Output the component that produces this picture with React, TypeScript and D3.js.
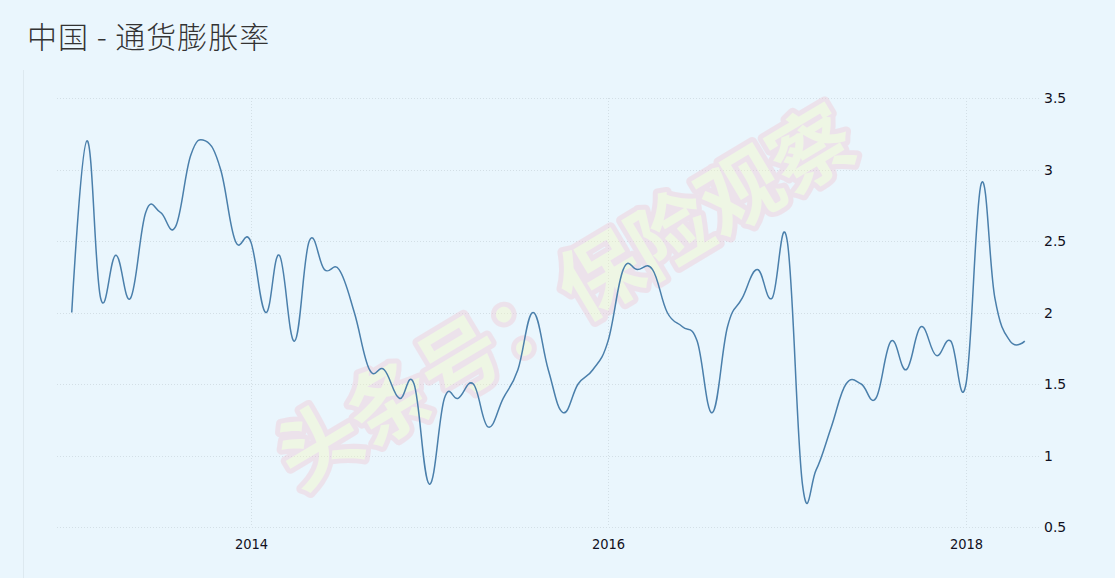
import React from "react";
import * as d3 from "d3";

const W = 1115;
const H = 578;

const title = "中国 - 通货膨胀率";
const watermark = "头条号：保险观察";

const startYear = 2013;
const values: number[] = [
  // 2013
  2.0, 3.2, 2.1, 2.4, 2.1, 2.7, 2.7, 2.6, 3.1, 3.2, 3.0, 2.5,
  // 2014
  2.5, 2.0, 2.4, 1.8, 2.5, 2.3, 2.3, 2.0, 1.6, 1.6, 1.4, 1.5,
  // 2015
  0.8, 1.4, 1.4, 1.5, 1.2, 1.4, 1.6, 2.0, 1.6, 1.3, 1.5, 1.6,
  // 2016
  1.8, 2.3, 2.3, 2.3, 2.0, 1.9, 1.8, 1.3, 1.9, 2.1, 2.3, 2.1,
  // 2017
  2.5, 0.8, 0.9, 1.2, 1.5, 1.5, 1.4, 1.8, 1.6, 1.9, 1.7, 1.8,
  // 2018
  1.5, 2.9, 2.1, 1.8, 1.8,
];

const yTicks = [0.5, 1, 1.5, 2, 2.5, 3, 3.5];
const xTickYears = [2014, 2016, 2018];

const dates = values.map((_, i) => new Date(startYear, i, 1));

export default function App() {
  const x = d3
    .scaleTime()
    .domain([new Date(2014, 0, 1), new Date(2018, 0, 1)])
    .range([250.5, 966]);
  const y = d3.scaleLinear().domain([0.5, 3.5]).range([527, 98]);

  const line = d3
    .line<number>()
    .x((_, i) => x(dates[i]))
    .y((d) => y(d))
    .curve(d3.curveCardinal.tension(-0.2));

  const gridLeft = 57;
  const gridRight = 1040;

  return (
    <div style={{ position: "absolute", left: 0, top: 0, width: W, height: H }}>
      <svg width={W} height={H} style={{ display: "block" }}>
        <rect x={0} y={0} width={W} height={H} fill="#eaf6fd" />
        <line x1={23.5} x2={23.5} y1={70} y2={H} stroke="#dde9f0" strokeWidth={1} />
        <text
          x={27}
          y={48}
          fontFamily="'Noto Sans CJK SC', sans-serif"
          fontWeight={300}
          fontSize={30}
          letterSpacing={1}
          fill="#333"
        >
          {title}
        </text>

        {/* horizontal grid */}
        {yTicks.map((t) => (
          <g key={t}>
            <line
              x1={gridLeft}
              x2={gridRight}
              y1={Math.round(y(t)) + 0.5}
              y2={Math.round(y(t)) + 0.5}
              stroke="#d3dfe6"
              strokeDasharray="1,2"
            />
            <text
              x={1044}
              y={y(t) + 5}
              fontFamily="'DejaVu Sans', sans-serif"
              fontSize={14}
              fill="#111122"
            >
              {t}
            </text>
          </g>
        ))}

        {/* vertical grid */}
        {xTickYears.map((yr) => {
          const xx = Math.round(x(new Date(yr, 0, 1))) + 0.5;
          return (
            <g key={yr}>
              <line
                x1={xx}
                x2={xx}
                y1={98}
                y2={527}
                stroke="#d3dfe6"
                strokeDasharray="1,2"
              />
              <text
                x={xx}
                y={549}
                textAnchor="middle"
                fontFamily="'DejaVu Sans Condensed', 'DejaVu Sans', sans-serif"
                fontSize={14.5}
                fill="#111122"
              >
                {yr}
              </text>
            </g>
          );
        })}

        {/* watermark */}
        <g transform="translate(562,292) rotate(-31)" opacity={0.4}>
          <text
            x={0}
            y={0}
            textAnchor="middle"
            dominantBaseline="central"
            fontFamily="'Noto Sans CJK SC', sans-serif"
            fontWeight={700}
            fontSize={82}
            fill="#f6f7c0"
            stroke="#f0c6d2"
            strokeWidth={10}
            strokeLinejoin="round"
            paintOrder="stroke"
          >
            {watermark}
          </text>
        </g>

        <path
          d={line(values) || ""}
          fill="none"
          stroke="#4a7fab"
          strokeWidth={1.5}
        />
      </svg>
    </div>
  );
}
